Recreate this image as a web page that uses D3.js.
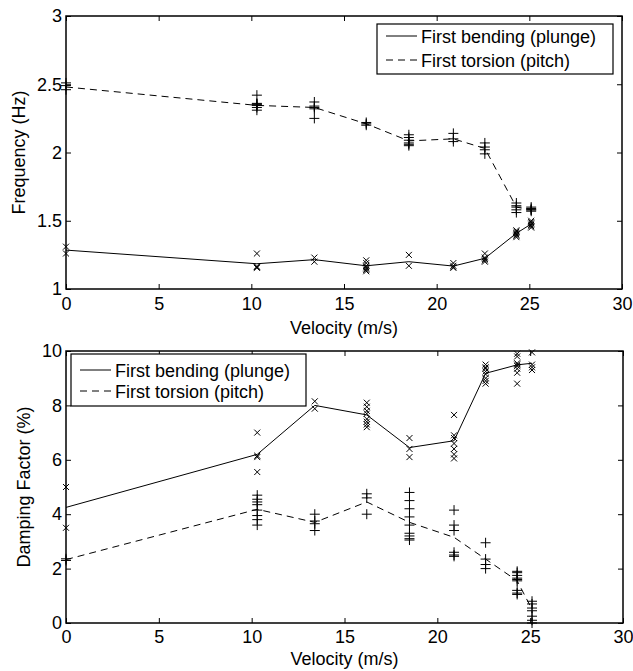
<!DOCTYPE html>
<html>
<head>
<meta charset="utf-8">
<script src="https://cdn.jsdelivr.net/npm/d3@7"></script>
<style>
  body { margin: 0; background: #fff; }
  svg text { font-family: "Liberation Sans", Arial, sans-serif; fill: #000; }
</style>
</head>
<body>
<div id="chart"></div>
<script>
// ---- data ----
const velocities = [0, 10.3, 13.4, 16.2, 18.5, 20.9, 22.6, 24.3, 25.1];
const xTicks = [0, 5, 10, 15, 20, 25, 30];
const freqTicks = [1, 1.5, 2, 2.5, 3];
const dampTicks = [0, 2, 4, 6, 8, 10];

// frequency (Hz), individual runs at each velocity
const freqBendingRuns = [
  [1.31, 1.26],
  [1.26, 1.165, 1.16, 1.155],
  [1.23, 1.20],
  [1.21, 1.19, 1.17, 1.16, 1.15, 1.14, 1.13],
  [1.25, 1.17],
  [1.19, 1.17, 1.16, 1.155],
  [1.26, 1.23, 1.22, 1.21, 1.20],
  [1.43, 1.42, 1.41, 1.40, 1.39, 1.38],
  [1.50, 1.49, 1.48, 1.47, 1.46, 1.45]
];
const freqBendingMean = [1.285, 1.185, 1.215, 1.17, 1.20, 1.168, 1.225, 1.408, 1.476];

const freqTorsionRuns = [
  [2.51, 2.49, 2.46],
  [2.42, 2.36, 2.355, 2.35, 2.345, 2.33, 2.31],
  [2.37, 2.34, 2.33, 2.32, 2.25],
  [2.22, 2.21, 2.20],
  [2.13, 2.11, 2.09, 2.07, 2.06, 2.05],
  [2.14, 2.10, 2.08],
  [2.07, 2.04, 2.02, 1.99],
  [1.63, 1.61, 1.60, 1.58, 1.56],
  [1.60, 1.59, 1.58, 1.58, 1.57]
];
const freqTorsionMean = [2.48, 2.345, 2.33, 2.21, 2.085, 2.10, 2.03, 1.60, 1.58];

// damping factor (%), individual runs at each velocity
const dampBendingRuns = [
  [5.0, 3.5],
  [7.0, 6.15, 6.1, 5.55],
  [8.15, 7.88],
  [8.1, 7.95, 7.8, 7.7, 7.5, 7.4, 7.3, 7.2],
  [6.8, 6.4, 6.1],
  [7.65, 6.9, 6.8, 6.6, 6.4, 6.2, 6.05],
  [9.5, 9.4, 9.35, 9.25, 9.15, 9.0, 8.9, 8.8],
  [9.9, 9.8, 9.55, 9.5, 9.45, 9.35, 9.2, 8.8],
  [9.95, 9.5, 9.4, 9.3]
];
const dampBendingMean = [4.25, 6.2, 8.0, 7.65, 6.45, 6.7, 9.18, 9.49, 9.55];

const dampTorsionRuns = [
  [2.36, 2.3],
  [4.7, 4.55, 4.45, 4.35, 4.15, 3.95, 3.8, 3.6],
  [4.0, 3.75, 3.65, 3.4],
  [4.75, 4.6, 4.0],
  [4.8, 4.5, 4.2, 3.9, 3.6, 3.3, 3.2, 3.1, 3.05],
  [4.15, 3.6, 3.4, 2.6, 2.5, 2.45],
  [2.95, 2.35, 2.15, 2.0],
  [1.9, 1.85, 1.75, 1.65, 1.6, 1.55, 1.2, 1.1, 1.05],
  [0.8, 0.7, 0.55, 0.45, 0.25, 0.1, 0.0]
];
const dampTorsionMean = [2.33, 4.18, 3.7, 4.45, 3.7, 3.15, 2.35, 1.55, 0.5];

const legendLabels = ["First bending (plunge)", "First torsion (pitch)"];

// ---- drawing ----
const W = 633, H = 671;
const fs = "18px";
const svg = d3.select("#chart").append("svg")
  .attr("width", W).attr("height", H);

function panel(opts) {
  const x = d3.scaleLinear().domain([0, 30]).range([opts.left, opts.right]);
  const y = d3.scaleLinear().domain(opts.yDomain).range([opts.bottom, opts.top]);
  const g = svg.append("g");

  // inside ticks on all four sides
  g.append("g")
    .attr("transform", `translate(0,${opts.bottom})`)
    .call(d3.axisBottom(x).tickValues(xTicks).tickSizeInner(-5).tickSizeOuter(0).tickPadding(opts.xPad))
    .call(s => s.select(".domain").remove());
  g.append("g")
    .attr("transform", `translate(0,${opts.top})`)
    .call(d3.axisTop(x).tickValues(xTicks).tickSizeInner(-5).tickSizeOuter(0).tickFormat(""))
    .call(s => s.select(".domain").remove());
  g.append("g")
    .attr("transform", `translate(${opts.left},0)`)
    .call(d3.axisLeft(y).tickValues(opts.yTicks).tickSizeInner(-5).tickSizeOuter(0).tickPadding(4)
      .tickFormat(d3.format("~g")))
    .call(s => s.select(".domain").remove());
  g.append("g")
    .attr("transform", `translate(${opts.right},0)`)
    .call(d3.axisRight(y).tickValues(opts.yTicks).tickSizeInner(-5).tickSizeOuter(0).tickFormat(""))
    .call(s => s.select(".domain").remove());

  g.selectAll(".tick text").style("font-size", fs);
  g.selectAll(".tick line").attr("stroke", "#000");

  // mean lines
  const line = d3.line().x((d, i) => x(velocities[i])).y(d => y(d));
  g.append("path").datum(opts.bendMean)
    .attr("d", line).attr("fill", "none").attr("stroke", "#000").attr("stroke-width", 1);
  g.append("path").datum(opts.torsMean)
    .attr("d", line).attr("fill", "none").attr("stroke", "#000").attr("stroke-width", 1)
    .attr("stroke-dasharray", "7,5");

  // x markers for bending runs
  const bendPts = opts.bendRuns.flatMap((runs, i) => runs.map(v => [velocities[i], v]));
  g.append("g").selectAll("path").data(bendPts).join("path")
    .attr("d", d => {
      const cx = x(d[0]), cy = y(d[1]), r = 3;
      return `M${cx - r},${cy - r}L${cx + r},${cy + r}M${cx - r},${cy + r}L${cx + r},${cy - r}`;
    })
    .attr("stroke", "#000").attr("stroke-width", 1).attr("fill", "none");

  // + markers for torsion runs
  const torsPts = opts.torsRuns.flatMap((runs, i) => runs.map(v => [velocities[i], v]));
  g.append("g").selectAll("path").data(torsPts).join("path")
    .attr("d", d => {
      const cx = x(d[0]), cy = y(d[1]), r = 5;
      return `M${cx - r},${cy}L${cx + r},${cy}M${cx},${cy - r}L${cx},${cy + r}`;
    })
    .attr("stroke", "#000").attr("stroke-width", 1).attr("fill", "none");

  // frame
  g.append("rect")
    .attr("x", opts.left).attr("y", opts.top)
    .attr("width", opts.right - opts.left).attr("height", opts.bottom - opts.top)
    .attr("fill", "none").attr("stroke", "#000").attr("stroke-width", 1.5);

  // axis titles
  g.append("text")
    .attr("x", (opts.left + opts.right) / 2).attr("y", opts.xLabelY)
    .attr("text-anchor", "middle").style("font-size", fs)
    .text("Velocity (m/s)");
  g.append("text")
    .attr("transform", `translate(${opts.yLabelX},${(opts.top + opts.bottom) / 2}) rotate(-90)`)
    .attr("text-anchor", "middle").style("font-size", fs)
    .text(opts.yLabel);

  // legend
  const L = opts.legend;
  const lg = g.append("g").attr("transform", `translate(${L.x},${L.y})`);
  lg.append("rect").attr("width", L.w).attr("height", L.h)
    .attr("fill", "#fff").attr("stroke", "#000").attr("stroke-width", 1.2);
  legendLabels.forEach((lab, i) => {
    const cy = L.rows[i];
    lg.append("line").attr("x1", 9).attr("x2", 40).attr("y1", cy).attr("y2", cy)
      .attr("stroke", "#000").attr("stroke-width", 1)
      .attr("stroke-dasharray", i === 1 ? "7,5" : null);
    lg.append("text").attr("x", 44).attr("y", cy + 6.5)
      .style("font-size", fs).text(lab);
  });
}

panel({
  left: 66, right: 622, top: 16, bottom: 289,
  yDomain: [1, 3], yTicks: freqTicks, xPad: 8,
  bendRuns: freqBendingRuns, bendMean: freqBendingMean,
  torsRuns: freqTorsionRuns, torsMean: freqTorsionMean,
  xLabelY: 334, yLabelX: 25, yLabel: "Frequency (Hz)",
  legend: { x: 377, y: 24, w: 236, h: 50, rows: [12, 36] }
});

panel({
  left: 66, right: 623, top: 351, bottom: 623,
  yDomain: [0, 10], yTicks: dampTicks, xPad: 7,
  bendRuns: dampBendingRuns, bendMean: dampBendingMean,
  torsRuns: dampTorsionRuns, torsMean: dampTorsionMean,
  xLabelY: 665, yLabelX: 30, yLabel: "Damping Factor (%)",
  legend: { x: 71, y: 354, w: 235, h: 52, rows: [16, 37] }
});
</script>
</body>
</html>
